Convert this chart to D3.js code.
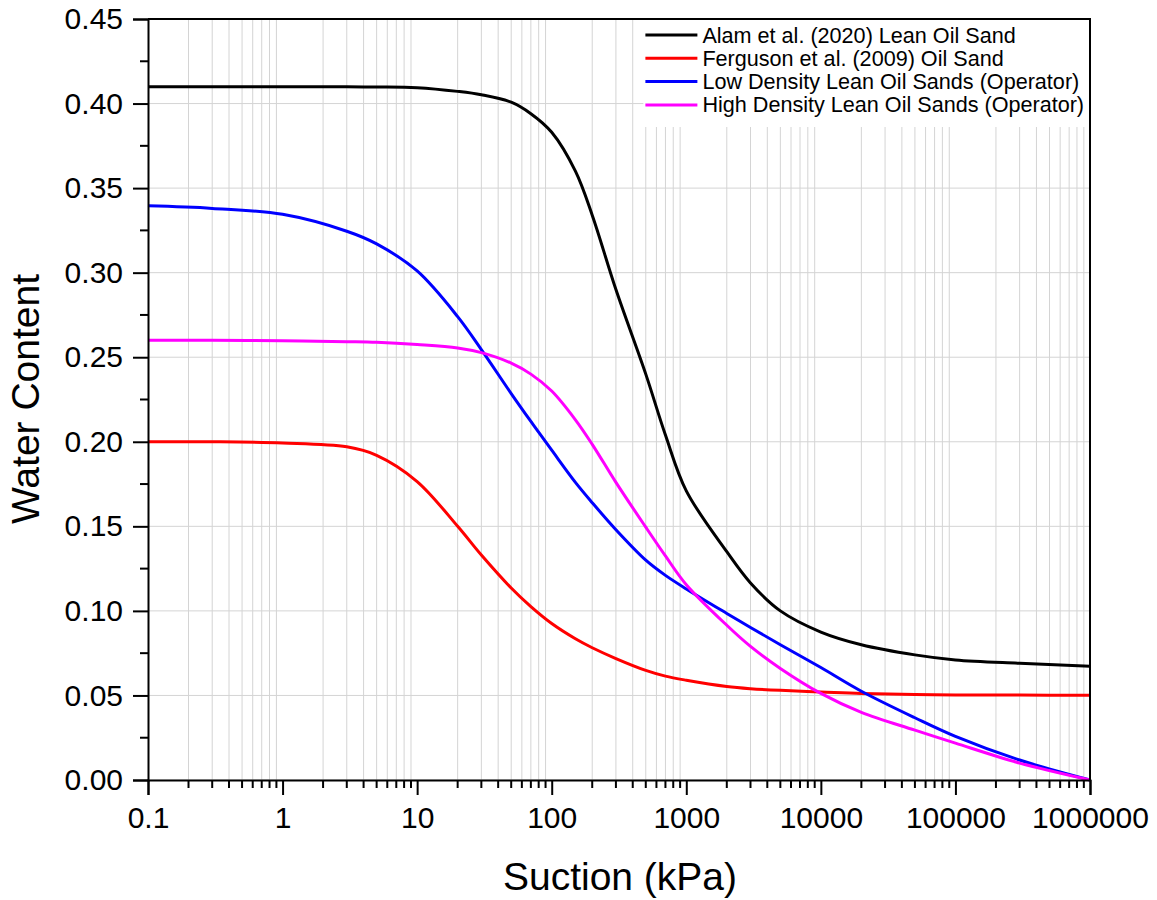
<!DOCTYPE html>
<html>
<head>
<meta charset="utf-8">
<script src="https://cdn.jsdelivr.net/npm/d3@7"></script>
<style>
  body { margin: 0; background: #fff; }
  text { font-family: Arial, "Liberation Sans", sans-serif; fill: #000; }
</style>
</head>
<body>
<div id="chart"></div>
<script>
// suction values (kPa) shared by all curves
const suction = [0.1, 0.3, 1, 3, 5, 10, 20, 30, 50, 70, 100, 150, 200, 300, 500, 700, 1000,
                 2000, 3000, 5000, 10000, 20000, 50000, 100000, 300000, 1000000];

const alam = [0.410, 0.410, 0.410, 0.4099, 0.4098, 0.4094, 0.4072, 0.4052, 0.4008, 0.3940, 0.3830,
              0.3600, 0.3340, 0.2900, 0.2400, 0.2040, 0.1710, 0.1350, 0.1165, 0.1000, 0.0875,
              0.0800, 0.0740, 0.0710, 0.0690, 0.0673];
const ferguson = [0.200, 0.200, 0.1993, 0.1970, 0.1920, 0.1765, 0.1500, 0.1330, 0.1135, 0.1025, 0.0925,
                  0.0835, 0.0782, 0.0718, 0.0648, 0.0614, 0.0590, 0.0553, 0.0540, 0.0530, 0.0521,
                  0.0512, 0.0506, 0.0503, 0.0502, 0.0501];
const lowDensity = [0.3395, 0.3380, 0.3345, 0.3245, 0.3170, 0.3010, 0.2740, 0.2545, 0.2285, 0.2120, 0.1950,
                    0.1760, 0.1640, 0.1480, 0.1300, 0.1210, 0.1130, 0.0985, 0.0902, 0.0800, 0.0665,
                    0.0525, 0.0368, 0.0258, 0.0118, 0.0000];
const highDensity = [0.2600, 0.2600, 0.2598, 0.2592, 0.2588, 0.2575, 0.2555, 0.2527, 0.2465, 0.2400, 0.2300,
                     0.2130, 0.1985, 0.1760, 0.1495, 0.1325, 0.1155, 0.0915, 0.0790, 0.0660, 0.0512,
                     0.0400, 0.0295, 0.0218, 0.0100, 0.0000];

const seriesNames = ['Alam et al. (2020) Lean Oil Sand', 'Ferguson et al. (2009) Oil Sand',
                     'Low Density Lean Oil Sands (Operator)', 'High Density Lean Oil Sands (Operator)'];
const seriesValues = [alam, ferguson, lowDensity, highDensity];
const seriesColors = ['#000000', '#ff0000', '#0000ff', '#ff00ff'];

const xTicks = [0.1, 1, 10, 100, 1000, 10000, 100000, 1000000];
const yTicks = [0, 0.05, 0.10, 0.15, 0.20, 0.25, 0.30, 0.35, 0.40, 0.45];

let svgWidth = 1157, svgHeight = 900;
let margin = { top: 19, right: 67, bottom: 120, left: 148 };
let width = svgWidth - margin.left - margin.right;
let height = svgHeight - margin.top - margin.bottom;

let svg = d3.select('#chart').append('svg')
    .attr('width', svgWidth)
    .attr('height', svgHeight);

let g = svg.append('g')
    .attr('transform', 'translate(' + margin.left + ',' + margin.top + ')');

let x = d3.scaleLog().domain([0.1, 1000000]).range([0, width]);
let y = d3.scaleLinear().domain([0, 0.45]).range([height, 0]);

// minor ticks: 2..9 in every decade
let xMinor = [];
for (let d = -1; d < 6; d++) {
    for (let k = 2; k <= 9; k++) xMinor.push(k * Math.pow(10, d));
}
let yMinor = d3.range(0.025, 0.45, 0.05);

// grid
g.append('g').selectAll('line')
    .data(xMinor)
    .enter().append('line')
    .attr('x1', d => x(d)).attr('x2', d => x(d))
    .attr('y1', 0).attr('y2', height)
    .attr('stroke', '#d4d4d4').attr('stroke-width', 1);

g.append('g').selectAll('line')
    .data(yTicks)
    .enter().append('line')
    .attr('x1', 0).attr('x2', width)
    .attr('y1', d => y(d)).attr('y2', d => y(d))
    .attr('stroke', '#d4d4d4').attr('stroke-width', 1);

// curves
let line = d3.line()
    .x(d => x(d[0]))
    .y(d => y(d[1]))
    .curve(d3.curveCatmullRom.alpha(0.5));

seriesValues.forEach((vals, i) => {
    g.append('path')
        .datum(suction.map((s, j) => [s, vals[j]]))
        .attr('fill', 'none')
        .attr('stroke', seriesColors[i])
        .attr('stroke-width', 3)
        .attr('d', line);
});

// legend
let legendX = x(480), legendW = width - legendX;
g.append('rect')
    .attr('x', legendX).attr('y', 0)
    .attr('width', legendW).attr('height', 108)
    .attr('fill', '#fff');

let legend = g.append('g').attr('transform', 'translate(' + (legendX + 2) + ',16)');
seriesNames.forEach((name, i) => {
    let row = legend.append('g').attr('transform', 'translate(0,' + (i * 23.3) + ')');
    row.append('line')
        .attr('x1', 0).attr('x2', 52)
        .attr('y1', 0).attr('y2', 0)
        .attr('stroke', seriesColors[i]).attr('stroke-width', 3);
    row.append('text')
        .attr('x', 57).attr('y', 7.5)
        .style('font-size', '21.6px')
        .text(name);
});

// axes
let xAxis = g.append('g')
    .attr('transform', 'translate(0,' + height + ')')
    .call(d3.axisBottom(x).tickValues(xTicks).tickSize(15).tickPadding(12)
        .tickFormat(d => d < 1 ? '0.1' : d3.format('d')(d)));
xAxis.append('g').selectAll('line')
    .data(xMinor)
    .enter().append('line')
    .attr('x1', d => x(d)).attr('x2', d => x(d))
    .attr('y1', 0).attr('y2', 8)
    .attr('stroke', '#000').attr('stroke-width', 2);

let yAxis = g.append('g')
    .call(d3.axisLeft(y).tickValues(yTicks).tickSize(15).tickPadding(10)
        .tickFormat(d3.format('.2f')));
yAxis.append('g').selectAll('line')
    .data(yMinor)
    .enter().append('line')
    .attr('x1', 0).attr('x2', -8)
    .attr('y1', d => y(d)).attr('y2', d => y(d))
    .attr('stroke', '#000').attr('stroke-width', 2);

[xAxis, yAxis].forEach(a => {
    a.select('.domain').attr('stroke', '#000').attr('stroke-width', 2);
    a.selectAll('.tick line').attr('stroke', '#000').attr('stroke-width', 2);
    a.selectAll('.tick text').style('font-size', '30px')
        .style('font-family', 'Arial, "Liberation Sans", sans-serif').attr('fill', '#000');
});

// frame top and right
g.append('path')
    .attr('d', 'M0,0H' + width + 'V' + height)
    .attr('fill', 'none')
    .attr('stroke', '#000').attr('stroke-width', 2);

// axis titles
svg.append('text')
    .attr('x', 620)
    .attr('y', 890)
    .style('text-anchor', 'middle')
    .style('font-size', '39px')
    .text('Suction (kPa)');

svg.append('text')
    .attr('transform', 'translate(39,399) rotate(-90)')
    .style('text-anchor', 'middle')
    .style('font-size', '39px')
    .text('Water Content');
</script>
</body>
</html>
